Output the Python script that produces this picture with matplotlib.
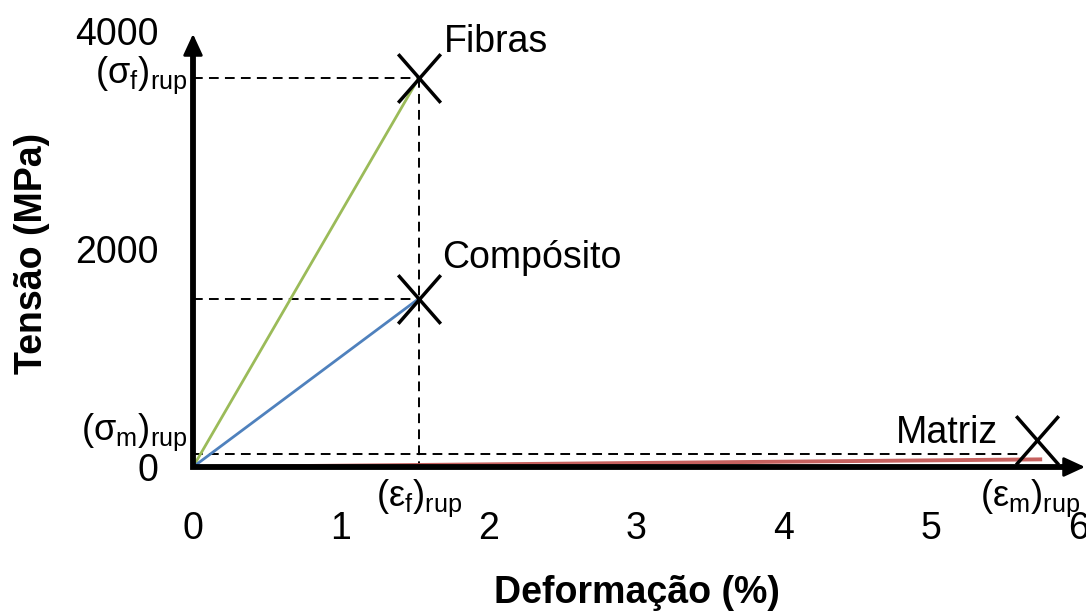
import matplotlib
matplotlib.use('Agg')
import matplotlib.pyplot as plt
from matplotlib.path import Path
import matplotlib.transforms as mtransforms

plt.rcParams['font.family'] = ['Liberation Sans', 'DejaVu Sans']
plt.rcParams['mathtext.fontset'] = 'custom'
plt.rcParams['mathtext.rm'] = 'Liberation Sans'
plt.rcParams['mathtext.it'] = 'Liberation Sans'
plt.rcParams['mathtext.bf'] = 'Liberation Sans:bold'
plt.rcParams['lines.scale_dashes'] = False

# ---------------- data ----------------
strain_ticks = [0, 1, 2, 3, 4, 5, 6]
stress_ticks = [0, 2000, 4000]
strain_ticklabels = ['0', '1', '2', '3', '4', '5', '6']
stress_ticklabels = ['0', '2000', '4000']

fiber_strain = [0, 1.53]
fiber_stress = [0, 3570]
composite_strain = [0, 1.53]
composite_stress = [0, 1545]
matrix_strain = [0, 5.74]
matrix_stress = [0, 70]

sigma_f_rup = 3570
sigma_m_rup = 120
eps_f_rup = 1.53
eps_m_rup = 5.67
sigma_m_dash_end = 5.6

series_names = ['Fibras', 'Compósito', 'Matriz']
colors = ['#9BBB59', '#4F81BD', '#C0504D']

# ---------------- figure ----------------
W, H = 1086, 612
fig = plt.figure(figsize=(W / 100, H / 100), dpi=100)
x0, y0 = 193, 467          # pixel origin
px_per_x = 147.6
px_per_y = 0.109
ax = fig.add_axes([x0 / W, (H - y0) / H, 6 * px_per_x / W, 4000 * px_per_y / H])
ax.set_xlim(0, 6)
ax.set_ylim(0, 4000)
for s in ax.spines.values():
    s.set_visible(False)

ax.set_xticks(strain_ticks)
ax.set_xticklabels(strain_ticklabels)
ax.set_yticks(stress_ticks)
ax.set_yticklabels(stress_ticklabels)
ax.tick_params(axis='x', length=0, pad=32, labelsize=27)
ax.tick_params(axis='y', length=0, pad=25, labelsize=27)

ax.set_xlabel('Deformação (%)', fontsize=27, fontweight='bold')
ax.xaxis.set_label_coords((637 - x0) / (6 * px_per_x), (y0 - 593) / (4000 * px_per_y))
ax.xaxis.label.set_va('center')
ax.set_ylabel('Tensão (MPa)', fontsize=27, fontweight='bold')
ax.yaxis.set_label_coords((32 - x0) / (6 * px_per_x), (y0 - 253) / (4000 * px_per_y))
ax.yaxis.label.set_va('center')

# axes with arrows
x_tip = (1085 - x0) / px_per_x
y_tip = (y0 - 34) / px_per_y
ax.plot([0, 0, x_tip - 0.1], [y_tip - 150, 0, 0], color='black', lw=4.2,
        solid_joinstyle='miter', solid_capstyle='butt', clip_on=False, zorder=5)
ax.annotate('', xy=(0, y_tip), xytext=(0, y_tip - 200),
            arrowprops=dict(arrowstyle='-|>,head_length=0.65,head_width=0.3',
                            mutation_scale=20, color='black', lw=2,
                            shrinkA=0, shrinkB=0), annotation_clip=False, zorder=6)
ax.annotate('', xy=(x_tip, 0), xytext=(x_tip - 0.15, 0),
            arrowprops=dict(arrowstyle='-|>,head_length=0.65,head_width=0.3',
                            mutation_scale=20, color='black', lw=2,
                            shrinkA=0, shrinkB=0), annotation_clip=False, zorder=6)

# dashed guides
dash = (0, (7, 4.5))
dkw = dict(color='black', lw=1.4, linestyle=dash, clip_on=False, zorder=2)
ax.plot([0, eps_f_rup], [sigma_f_rup, sigma_f_rup], **dkw)
ax.plot([eps_f_rup, eps_f_rup], [sigma_f_rup, 0], **dkw)
ax.plot([0, composite_strain[-1]], [composite_stress[-1], composite_stress[-1]], **dkw)
ax.plot([0, sigma_m_dash_end], [sigma_m_rup, sigma_m_rup], **dkw)

# curves
ax.plot(fiber_strain, fiber_stress, color=colors[0], lw=2, zorder=3, clip_on=False)
ax.plot(composite_strain, composite_stress, color=colors[1], lw=2, zorder=3, clip_on=False)
ax.plot(matrix_strain, matrix_stress, color=colors[2], lw=2.8, alpha=0.9, zorder=3, clip_on=False)

# break markers (X)
xpath = Path([(-0.875, -1), (0.875, 1), (-0.875, 1), (0.875, -1)],
             [Path.MOVETO, Path.LINETO, Path.MOVETO, Path.LINETO])
mkw = dict(marker=xpath, markersize=35, markeredgewidth=2.5, color='black',
           linestyle='none', zorder=7, clip_on=False)
ax.plot([fiber_strain[-1]], [fiber_stress[-1]], **mkw)
ax.plot([composite_strain[-1]], [composite_stress[-1]], **mkw)
off = mtransforms.ScaledTranslation(-3 / 100, 19 / 100, fig.dpi_scale_trans)
ax.plot([matrix_strain[-1]], [matrix_stress[-1]], transform=ax.transData + off, **mkw)

# series labels
ax.annotate(series_names[0], xy=(fiber_strain[-1], fiber_stress[-1]),
            xytext=(25, 26), textcoords='offset pixels', fontsize=27,
            ha='left', va='baseline')
ax.annotate(series_names[1], xy=(composite_strain[-1], composite_stress[-1]),
            xytext=(23, 31), textcoords='offset pixels', fontsize=27,
            ha='left', va='baseline')
ax.annotate(series_names[2], xy=(matrix_strain[-1], matrix_stress[-1]),
            xytext=(-42, 16), textcoords='offset pixels', fontsize=27,
            ha='right', va='baseline')

# rupture labels
fs = 26
ax.annotate(r'$(\mathrm{σ}_\mathrm{f})_\mathrm{rup}$', xy=(0, sigma_f_rup),
            xytext=(-5, 3), textcoords='offset pixels', fontsize=fs,
            ha='right', va='center')
ax.annotate(r'$(\mathrm{σ}_\mathrm{m})_\mathrm{rup}$', xy=(0, sigma_m_rup),
            xytext=(-5, 22), textcoords='offset pixels', fontsize=fs,
            ha='right', va='center')
ax.annotate(r'$(\mathrm{ε}_\mathrm{f})_\mathrm{rup}$', xy=(eps_f_rup, 0),
            xytext=(0, -31), textcoords='offset pixels', fontsize=fs,
            ha='center', va='center')
ax.annotate(r'$(\mathrm{ε}_\mathrm{m})_\mathrm{rup}$', xy=(eps_m_rup, 0),
            xytext=(0, -31), textcoords='offset pixels', fontsize=fs,
            ha='center', va='center')

fig.savefig('out.png', dpi=100)
